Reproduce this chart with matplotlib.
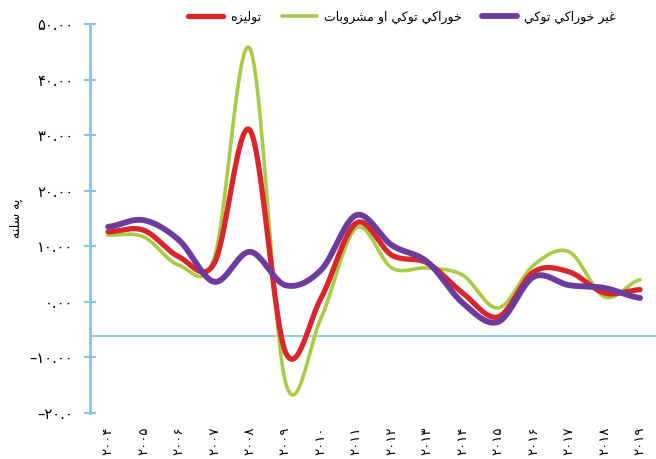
import numpy as np
from matplotlib import pyplot as plt

plt.rcParams['font.family'] = ['DejaVu Sans']

years = list(range(2004, 2020))
total = [12.6, 12.9, 8.1, 7.0, 30.9, -9.0, 0.6, 14.2, 8.4, 7.0, 1.6, -2.7, 5.4, 5.4, 1.6, 2.2]
food = [12.0, 11.7, 6.6, 8.1, 45.6, -14.4, -3.0, 13.3, 6.1, 6.1, 4.8, -1.1, 6.6, 9.0, 0.9, 4.0]
nonfood = [13.5, 14.7, 11.1, 3.6, 9.0, 3.0, 5.7, 15.6, 10.2, 7.2, -0.2, -3.6, 4.5, 3.0, 2.5, 0.7]

names = ['تولیزه', 'خوراکي توکي او مشروبات', 'غیر خوراکي توکي']
ylabel = 'په سلنه'
yticks = [-20, -10, 0, 10, 20, 30, 40, 50]
ytick_labels = ['–۲۰.۰', '–۱۰.۰۰', '۰.۰۰', '۱۰.۰۰', '۲۰.۰۰', '۳۰.۰۰', '۴۰.۰۰', '۵۰.۰۰']
baseline = -6.1

# presentation forms: (isolated, final, initial, medial); 2-tuples only join to the right
FORMS = {
    'ت': ('\uFE95', '\uFE96', '\uFE97', '\uFE98'),
    'و': ('\uFEED', '\uFEEE'),
    'ل': ('\uFEDD', '\uFEDE', '\uFEDF', '\uFEE0'),
    'ی': ('\uFBFC', '\uFBFD', '\uFBFE', '\uFBFF'),
    'ي': ('\uFEF1', '\uFEF2', '\uFEF3', '\uFEF4'),
    'ز': ('\uFEAF', '\uFEB0'),
    'ه': ('\uFEE9', '\uFEEA', '\uFEEB', '\uFEEC'),
    'خ': ('\uFEA5', '\uFEA6', '\uFEA7', '\uFEA8'),
    'ر': ('\uFEAD', '\uFEAE'),
    'ا': ('\uFE8D', '\uFE8E'),
    'ک': ('\uFB8E', '\uFB8F', '\uFB90', '\uFB91'),
    'م': ('\uFEE1', '\uFEE2', '\uFEE3', '\uFEE4'),
    'ش': ('\uFEB5', '\uFEB6', '\uFEB7', '\uFEB8'),
    'ب': ('\uFE8F', '\uFE90', '\uFE91', '\uFE92'),
    'غ': ('\uFECD', '\uFECE', '\uFECF', '\uFED0'),
    'پ': ('\uFB56', '\uFB57', '\uFB58', '\uFB59'),
    'س': ('\uFEB1', '\uFEB2', '\uFEB3', '\uFEB4'),
    'ن': ('\uFEE5', '\uFEE6', '\uFEE7', '\uFEE8'),
}


def shape(text):
    out = []
    for i, c in enumerate(text):
        if c not in FORMS:
            out.append(c)
            continue
        prev = text[i - 1] if i > 0 else None
        nxt = text[i + 1] if i + 1 < len(text) else None
        f = FORMS[c]
        jp = prev in FORMS and len(FORMS[prev]) == 4
        jn = nxt in FORMS and len(f) == 4
        if jp and jn:
            out.append(f[3])
        elif jp:
            out.append(f[1])
        elif jn:
            out.append(f[2])
        else:
            out.append(f[0])
    return ''.join(reversed(out))


def smooth(xs, ys, n=24):
    xs = np.asarray(xs, float)
    ys = np.asarray(ys, float)
    px, py = [], []
    for i in range(len(ys) - 1):
        y0 = ys[i - 1] if i > 0 else ys[i]
        y1, y2 = ys[i], ys[i + 1]
        y3 = ys[i + 2] if i + 2 < len(ys) else ys[i + 1]
        t = np.linspace(0, 1, n, endpoint=False)
        yy = 0.5 * (2 * y1 + (-y0 + y2) * t + (2 * y0 - 5 * y1 + 4 * y2 - y3) * t ** 2
                    + (-y0 + 3 * y1 - 3 * y2 + y3) * t ** 3)
        px.extend(xs[i] + (xs[i + 1] - xs[i]) * t)
        py.extend(yy)
    px.append(xs[-1])
    py.append(ys[-1])
    return px, py


fa = str.maketrans('0123456789', '۰۱۲۳۴۵۶۷۸۹')
blue = '#86c5e3'

fig = plt.figure(figsize=(6.56, 4.59), dpi=100)
ax = fig.add_axes([90 / 656, 1 - 413 / 459, 566 / 656, 389 / 459])

ax.plot(*smooth(years, food), color='#a8cb45', lw=2.6, label=shape(names[1]), zorder=3,
        solid_capstyle='round')
ax.plot(*smooth(years, total), color='#d8262c', lw=3.8, label=shape(names[0]), zorder=4,
        solid_capstyle='round')
ax.plot(*smooth(years, nonfood), color='#6c3b9c', lw=4.2, label=shape(names[2]), zorder=5,
        solid_capstyle='round')

ax.axhline(baseline, color=blue, lw=1.2, zorder=2)

ax.set_xlim(2003.49, 2019.45)
ax.set_ylim(-20, 50)
for s in ['top', 'right', 'bottom']:
    ax.spines[s].set_visible(False)
ax.spines['left'].set_color(blue)
ax.spines['left'].set_linewidth(2)

ax.set_yticks(yticks)
ax.set_yticklabels(ytick_labels, fontsize=10.5)
ax.tick_params(axis='y', direction='inout', length=8, width=1.5, color=blue, pad=8)
ax.set_xticks(years)
ax.set_xticklabels([str(y).translate(fa) for y in years], rotation=90, fontsize=9.5)
ax.tick_params(axis='x', length=0, pad=10)
ax.set_ylabel(shape(ylabel), fontsize=9, labelpad=5)

handles, labels = ax.get_legend_handles_labels()
order = [1, 0, 2]
fig.legend([handles[i] for i in order], [labels[i] for i in order], loc='center',
           bbox_to_anchor=(402 / 656, 1 - 17 / 459), ncol=3, frameon=False, fontsize=9,
           handlelength=2.8, columnspacing=1.6, handletextpad=0.6)

plt.savefig('out.png', dpi=100)
